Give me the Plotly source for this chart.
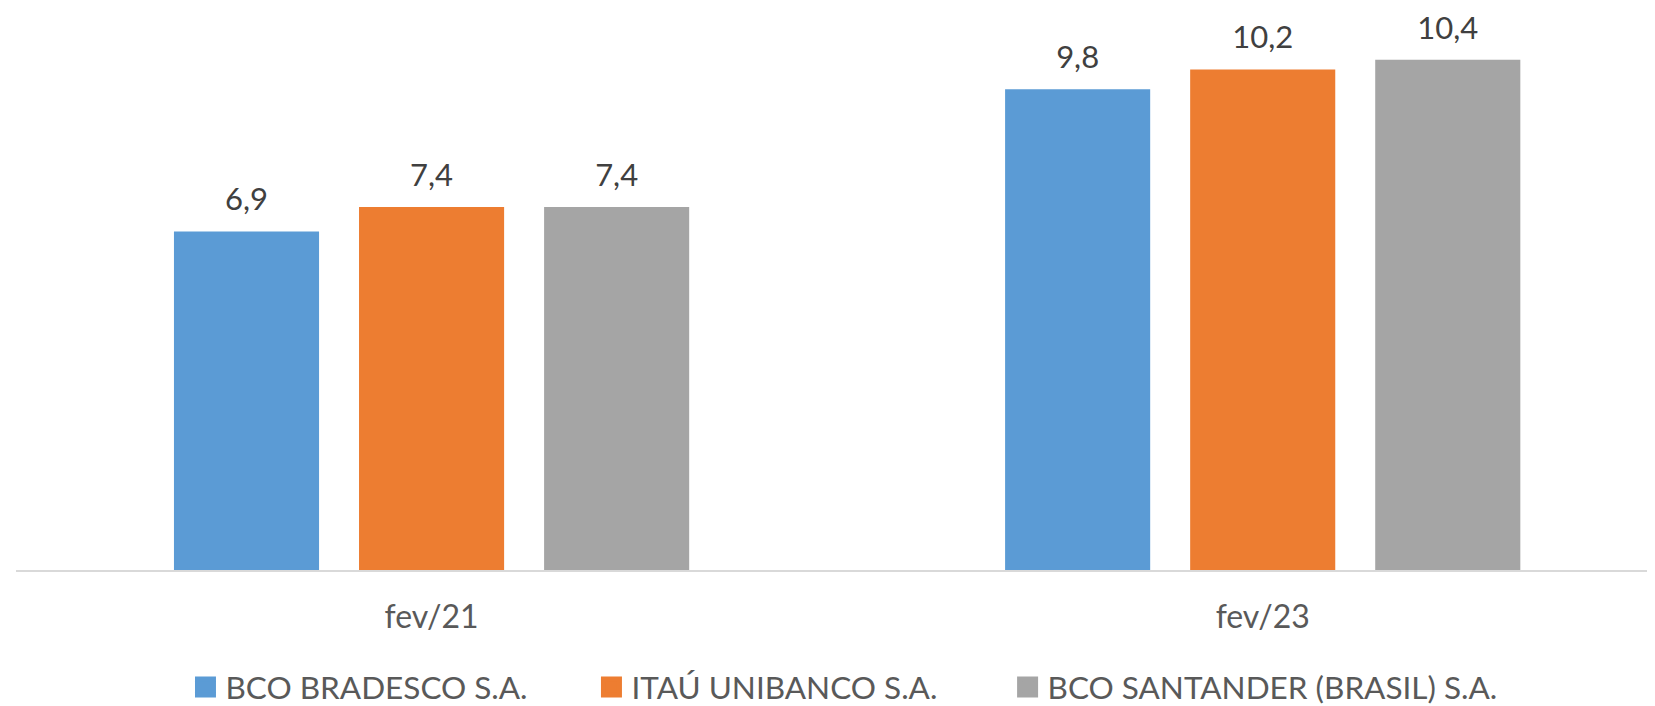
import plotly.graph_objects as go

categories = ["fev/21", "fev/23"]
series_names = ["BCO BRADESCO S.A.", "ITAÚ UNIBANCO S.A.", "BCO SANTANDER (BRASIL) S.A."]
bradesco = [6.9, 9.8]
itau = [7.4, 10.2]
santander = [7.4, 10.4]
colors = ["#5B9BD5", "#ED7D31", "#A5A5A5"]

FONT = "Lato"
legend_ids = ["legend", "legend2", "legend3"]
fig = go.Figure()
for i, (name, vals, col) in enumerate(zip(series_names, [bradesco, itau, santander], colors)):
    fig.add_trace(go.Bar(
        x=categories, y=vals, name=name, offsetgroup=str(i),
        marker=dict(color=col, line=dict(width=0)),
        showlegend=False,
    ))
    fig.add_trace(go.Scatter(
        x=categories, y=vals, mode="markers+text", offsetgroup=str(i),
        text=[f"{v:.1f}".replace(".", ",") for v in vals],
        textposition="top center", cliponaxis=False,
        textfont=dict(family=FONT, size=31, color="#404040"),
        marker=dict(size=20, opacity=0), showlegend=False, hoverinfo="skip",
    ))
    fig.add_trace(go.Scatter(
        x=[None], y=[None], mode="markers", name=name, legend=legend_ids[i],
        marker=dict(symbol="square", size=16, color=col, line=dict(width=5, color=col)),
    ))

legend_x = [0.1034, 0.3511, 0.6050]
leg_common = dict(orientation="h", xanchor="left", y=-0.2082, yanchor="middle",
                  font=dict(family=FONT, size=31.5, color="#595959"),
                  itemsizing="trace", bgcolor="rgba(0,0,0,0)", borderwidth=0)

fig.update_layout(
    width=1647, height=698,
    margin=dict(l=8, r=0, t=0, b=136, autoexpand=False),
    paper_bgcolor="white", plot_bgcolor="white",
    barmode="group", bargap=0.332, bargroupgap=0.216,
    scattermode="group", scattergap=0.332,
    font=dict(family=FONT, color="#595959"),
    xaxis=dict(range=[-0.5, 1.472], showline=True, linecolor="#D9D9D9", linewidth=2,
               showgrid=False, zeroline=False, ticks="", ticklabelstandoff=18,
               tickfont=dict(family=FONT, size=32, color="#595959")),
    yaxis=dict(range=[0, 11.455], visible=False, showgrid=False, zeroline=False),
    legend=dict(x=legend_x[0], **leg_common),
    legend2=dict(x=legend_x[1], **leg_common),
    legend3=dict(x=legend_x[2], **leg_common),
)
fig.write_html("out.html")
